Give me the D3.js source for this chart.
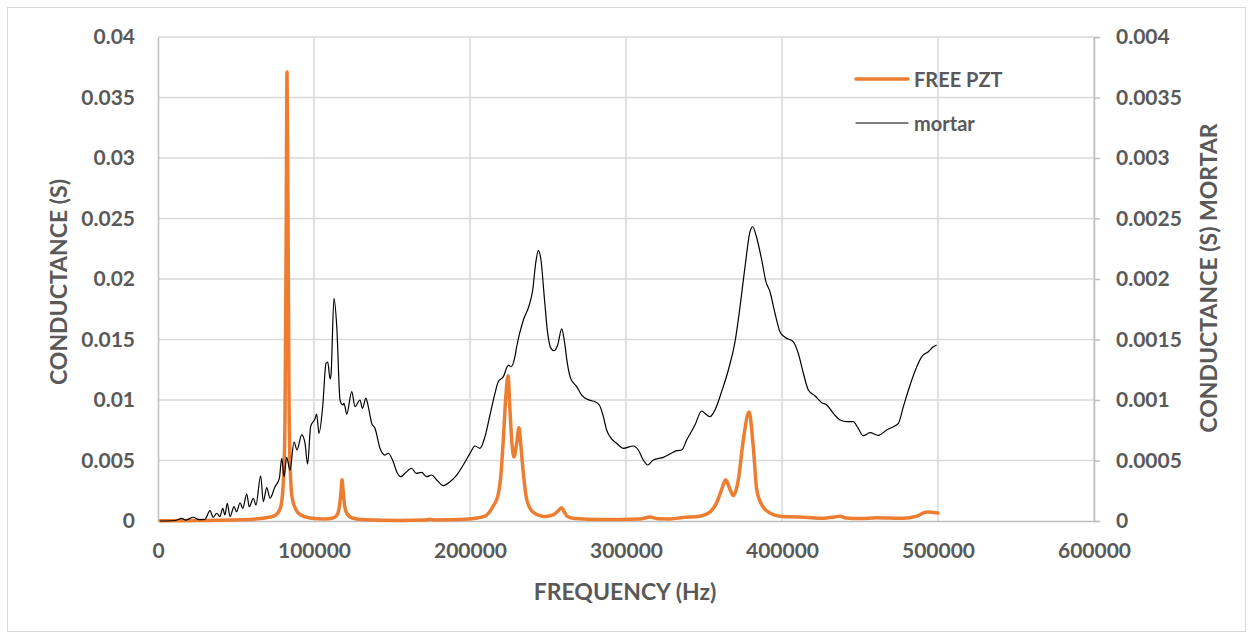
<!DOCTYPE html>
<html>
<head>
<meta charset="utf-8">
<script src="https://cdn.jsdelivr.net/npm/d3@7"></script>
<style>
  html, body { margin: 0; padding: 0; background: #fff; }
  svg { display: block; }
  text { font-family: Lato, "Open Sans", sans-serif; font-weight: bold; fill: #595959; }
</style>
</head>
<body>
<svg id="chart" width="1253" height="639"></svg>
<script>
// Conductance spectra: free PZT patch (left axis) and PZT bonded in mortar (right axis)

const pztFreq = [1300, 26900, 52600, 65400, 71800, 75000, 78200, 79500, 80800, 81400, 82100, 82700, 83300, 84000, 84600, 85900, 87800, 91000, 97400, 107000,
  112200, 114800, 116400, 117300, 118000, 118600, 119600, 121200, 124400, 132700, 155100, 171100, 174400, 177600, 193600, 203200, 209600, 214700, 217900, 219800,
  221200, 223100, 224400, 225600, 226900, 228200, 229800, 231400, 232700, 234000, 236500, 240400, 248100, 253200, 256400, 258700, 260300, 262200, 267300, 283300,
  309000, 315400, 320500, 328200, 336500, 347400, 353800, 358100, 361300, 363900, 366700, 368800, 372000, 375200, 378900, 381600, 383800, 387200, 392300, 398700,
  411500, 424300, 433900, 437200, 441000, 450000, 460900, 477600, 486400, 492800, 496800, 500000];
const pztG = [0.00002, 0.00004, 0.0001, 0.0002, 0.00033, 0.00045, 0.001, 0.0018, 0.0046, 0.0083, 0.0224, 0.0371, 0.0265, 0.010, 0.005, 0.002, 0.0011, 0.00054, 0.00025, 0.00017,
  0.00025, 0.0005, 0.0013, 0.0024, 0.0034, 0.0026, 0.0013, 0.0006, 0.00025, 0.0001, 0.00004, 0.00008, 0.00014, 0.00008, 0.00012, 0.00022, 0.0004, 0.0012, 0.0021, 0.0038,
  0.0064, 0.0105, 0.0120, 0.0092, 0.0064, 0.0053, 0.0063, 0.0077, 0.0061, 0.0042, 0.0017, 0.00074, 0.00037, 0.0005, 0.00083, 0.0011, 0.00079, 0.0004, 0.0002, 0.00012,
  0.00017, 0.00033, 0.00018, 0.00017, 0.00029, 0.0004, 0.00074, 0.0015, 0.0026, 0.0034, 0.0026, 0.0021, 0.0034, 0.0067, 0.0090, 0.0061, 0.0026, 0.0013, 0.00066, 0.0004,
  0.00033, 0.00022, 0.00033, 0.0004, 0.00025, 0.0002, 0.00027, 0.00022, 0.0004, 0.00074, 0.0007, 0.00066];

const mortarFreq = [1300, 10900, 15200, 17900, 22600, 26300, 30100, 33300, 35400, 37600, 39700, 41500, 42900, 44400, 46200, 48700, 50400, 52600, 54300, 56900,
  58500, 61100, 62800, 65800, 67500, 69700, 71800, 75000, 77800, 79300, 80800, 82500, 84600, 87200, 89100, 92100, 94200, 95900, 97900, 100600,
  101700, 103200, 105600, 107700, 108800, 110300, 110900, 112800, 114600, 116700, 118400, 119200, 121000, 124200, 126300, 129500, 131000, 133300, 134800, 137000,
  139100, 142300, 145500, 147600, 150800, 153000, 155600, 158300, 162600, 165400, 169000, 172200, 175400, 178700, 182900, 187200, 191500, 195700, 200000, 203200,
  206400, 209600, 212800, 216000, 218100, 221400, 224600, 226300, 228800, 229900, 234200, 238000, 240200, 242100, 243800, 245500, 247600, 249800, 251900, 253800,
  256200, 258800, 260400, 262400, 264500, 268400, 271600, 274800, 278000, 280100, 282900, 285500, 287600, 289700, 294000, 298300, 304700, 307900, 311100, 313900,
  317500, 323900, 328200, 332500, 335700, 338900, 344200, 348500, 351300, 353800, 357000, 361300, 365600, 369900, 373100, 376300, 379500, 381200, 383300, 387000,
  389700, 392300, 395500, 398700, 401900, 407200, 410400, 413700, 416900, 421200, 425500, 428700, 432900, 437200, 441500, 445700, 448700, 452100, 456400, 461800,
  467100, 471400, 474600, 477800, 482100, 486400, 489600, 493800, 497000, 499100];
const mortarG = [0, 0.000004, 0.000022, 0.000008, 0.000031, 0.000012, 0.000014, 0.000085, 0.000031, 0.000064, 0.000036, 0.000105, 0.00005, 0.000146, 0.000036, 0.000118, 0.000077, 0.000151, 0.000105, 0.000223,
  0.000118, 0.000188, 0.000132, 0.000374, 0.00016, 0.000275, 0.000188, 0.000283, 0.000353, 0.000518, 0.000366, 0.000526, 0.000421, 0.000653, 0.000587, 0.000711, 0.000645, 0.000471, 0.000785, 0.000843,
  0.000884, 0.000725, 0.00095, 0.001303, 0.001314, 0.001174, 0.001207, 0.00184, 0.001606, 0.001, 0.000959, 0.000973, 0.000884, 0.001069, 0.000945, 0.001, 0.000931, 0.001014, 0.000945, 0.000807,
  0.000766, 0.000601, 0.000545, 0.00056, 0.00049, 0.000407, 0.000366, 0.000394, 0.000436, 0.000394, 0.000402, 0.000366, 0.00038, 0.000339, 0.000292, 0.000325, 0.00038, 0.000463, 0.000559, 0.00062,
  0.000601, 0.000697, 0.000876, 0.001055, 0.001151, 0.001193, 0.001289, 0.001275, 0.001358, 0.00144, 0.001661, 0.001785, 0.001909, 0.00213, 0.002234, 0.002157, 0.001854, 0.001551, 0.001427, 0.001407,
  0.001455, 0.001587, 0.001496, 0.001303, 0.001179, 0.00111, 0.001041, 0.001008, 0.000994, 0.000986, 0.000959, 0.000862, 0.000752, 0.000697, 0.000642, 0.000601, 0.00062, 0.000587, 0.000504, 0.000463,
  0.000504, 0.000526, 0.000554, 0.000581, 0.000587, 0.000669, 0.000793, 0.000909, 0.000882, 0.000862, 0.000917, 0.001069, 0.001248, 0.001482, 0.001771, 0.002102, 0.002391, 0.002432, 0.002364, 0.002157,
  0.001978, 0.001895, 0.001717, 0.001564, 0.001518, 0.001482, 0.001386, 0.001221, 0.001083, 0.001033, 0.000978, 0.000959, 0.00089, 0.000835, 0.000821, 0.000821, 0.000769, 0.000705, 0.00073, 0.000708,
  0.000752, 0.000779, 0.000807, 0.000945, 0.001124, 0.001275, 0.001358, 0.001399, 0.00144, 0.001455];

const xTicks = [0, 100000, 200000, 300000, 400000, 500000, 600000];
const xTickLabels = ["0", "100000", "200000", "300000", "400000", "500000", "600000"];
const leftTicks = [0, 0.005, 0.01, 0.015, 0.02, 0.025, 0.03, 0.035, 0.04];
const leftTickLabels = ["0", "0.005", "0.01", "0.015", "0.02", "0.025", "0.03", "0.035", "0.04"];
const rightTicks = [0, 0.0005, 0.001, 0.0015, 0.002, 0.0025, 0.003, 0.0035, 0.004];
const rightTickLabels = ["0", "0.0005", "0.001", "0.0015", "0.002", "0.0025", "0.003", "0.0035", "0.004"];
const seriesNames = ["FREE PZT", "mortar"];

const W = 1253, H = 639;
const plot = { left: 158, right: 1094, top: 37, bottom: 521 };
const tickFont = 21, titleFont = 23, legendFont = 20;
const svg = d3.select("#chart");

// outer frame
svg.append("rect")
  .attr("x", 7.5).attr("y", 7.5)
  .attr("width", W - 15).attr("height", H - 15)
  .attr("fill", "#fff").attr("stroke", "#d9d9d9").attr("stroke-width", 1);

const x = d3.scaleLinear().domain([0, 600000]).range([plot.left, plot.right]);
const yL = d3.scaleLinear().domain([0, 0.04]).range([plot.bottom, plot.top]);
const yR = d3.scaleLinear().domain([0, 0.004]).range([plot.bottom, plot.top]);

// gridlines
const grid = svg.append("g").attr("stroke", "#d9d9d9").attr("stroke-width", 1.5);
grid.selectAll("line.h").data(leftTicks.slice(1)).join("line")
  .attr("x1", plot.left).attr("x2", plot.right)
  .attr("y1", d => yL(d)).attr("y2", d => yL(d));
grid.selectAll("line.v").data(xTicks.slice(1)).join("line")
  .attr("x1", d => x(d)).attr("x2", d => x(d))
  .attr("y1", plot.top).attr("y2", plot.bottom);

// bottom axis
const xAxis = d3.axisBottom(x).tickValues(xTicks).tickFormat((d, i) => xTickLabels[i]).tickSize(0);
const gx = svg.append("g").attr("transform", `translate(0,${plot.bottom})`).call(xAxis);
gx.attr("font-family", null).attr("font-size", null);
gx.select(".domain").attr("stroke", "#bfbfbf").attr("stroke-width", 1.5);
gx.selectAll("text").attr("font-size", tickFont).attr("fill", "#595959").attr("y", 30).attr("dy", "0.35em");

// left axis
const yAxisL = d3.axisLeft(yL).tickValues(leftTicks).tickFormat((d, i) => leftTickLabels[i]).tickSize(0).tickPadding(23);
const gl = svg.append("g").attr("transform", `translate(${plot.left},0)`).call(yAxisL);
gl.attr("font-family", null).attr("font-size", null);
gl.select(".domain").attr("stroke", "#bfbfbf").attr("stroke-width", 1.5);
gl.selectAll("text").attr("font-size", tickFont).attr("fill", "#595959");

// right axis
const yAxisR = d3.axisRight(yR).tickValues(rightTicks).tickFormat((d, i) => rightTickLabels[i]).tickSize(6).tickSizeOuter(6).tickPadding(16);
const gr = svg.append("g").attr("transform", `translate(${plot.right},0)`).call(yAxisR);
gr.attr("font-family", null).attr("font-size", null);
gr.select(".domain").attr("stroke", "#bfbfbf").attr("stroke-width", 1.5);
gr.selectAll(".tick line").attr("stroke", "#bfbfbf").attr("stroke-width", 1.5);
gr.selectAll("text").attr("font-size", tickFont).attr("fill", "#595959");

// axis titles
svg.append("text").attr("x", 625).attr("y", 591)
  .attr("text-anchor", "middle").attr("dominant-baseline", "central")
  .attr("font-size", titleFont).text("FREQUENCY (Hz)");
svg.append("text").attr("transform", `translate(58,282) rotate(-90)`)
  .attr("text-anchor", "middle").attr("dominant-baseline", "central")
  .attr("font-size", titleFont).text("CONDUCTANCE (S)");
svg.append("text").attr("transform", `translate(1208,278) rotate(-90)`)
  .attr("text-anchor", "middle").attr("dominant-baseline", "central")
  .attr("font-size", titleFont).text("CONDUCTANCE (S) MORTAR");

// series
const pztData = pztFreq.map((f, i) => [f, pztG[i]]);
const mortarData = mortarFreq.map((f, i) => [f, mortarG[i]]);

const linePzt = d3.line().x(d => x(d[0])).y(d => yL(d[1])).curve(d3.curveMonotoneX);
const lineMortar = d3.line().x(d => x(d[0])).y(d => yR(d[1])).curve(d3.curveMonotoneX);

svg.append("path").datum(pztData).attr("d", linePzt)
  .attr("fill", "none").attr("stroke", "#ed7d31").attr("stroke-width", 3.5)
  .attr("stroke-linejoin", "round").attr("stroke-linecap", "round");
svg.append("path").datum(mortarData).attr("d", lineMortar)
  .attr("fill", "none").attr("stroke", "#000").attr("stroke-width", 1.2)
  .attr("stroke-linejoin", "round");

// legend
const legend = svg.append("g");
const legendItems = [
  { name: seriesNames[0], color: "#ed7d31", width: 3.5, y: 79 },
  { name: seriesNames[1], color: "#000", width: 1.2, y: 123 }
];
legendItems.forEach(it => {
  legend.append("line").attr("x1", 856).attr("x2", 908).attr("y1", it.y).attr("y2", it.y)
    .attr("stroke", it.color).attr("stroke-width", it.width).attr("stroke-linecap", "round");
  legend.append("text").attr("x", 914).attr("y", it.y).attr("dominant-baseline", "central")
    .attr("font-size", legendFont).text(it.name);
});
</script>
</body>
</html>
